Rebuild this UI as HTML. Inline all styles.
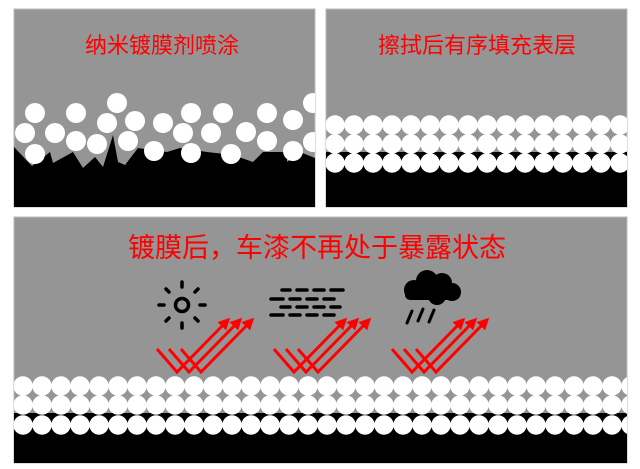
<!DOCTYPE html>
<html><head><meta charset="utf-8"><style>
body{margin:0;background:#fff;width:640px;height:469px;overflow:hidden}
svg{display:block}
text{font-family:"Liberation Sans","Noto Sans CJK SC",sans-serif;fill:#ff0000}
</style></head><body>
<svg width="640" height="469" viewBox="0 0 640 469" xmlns="http://www.w3.org/2000/svg">
<defs>
<g id="row" fill="#fff">
<circle cx="0" cy="0" r="9.7"/><circle cx="19" cy="0" r="9.7"/><circle cx="38" cy="0" r="9.7"/><circle cx="57" cy="0" r="9.7"/>
<circle cx="76" cy="0" r="9.7"/><circle cx="95" cy="0" r="9.7"/><circle cx="114" cy="0" r="9.7"/><circle cx="133" cy="0" r="9.7"/>
<circle cx="152" cy="0" r="9.7"/><circle cx="171" cy="0" r="9.7"/><circle cx="190" cy="0" r="9.7"/><circle cx="209" cy="0" r="9.7"/>
<circle cx="228" cy="0" r="9.7"/><circle cx="247" cy="0" r="9.7"/><circle cx="266" cy="0" r="9.7"/><circle cx="285" cy="0" r="9.7"/>
<circle cx="304" cy="0" r="9.7"/><circle cx="323" cy="0" r="9.7"/><circle cx="342" cy="0" r="9.7"/><circle cx="361" cy="0" r="9.7"/>
<circle cx="380" cy="0" r="9.7"/><circle cx="399" cy="0" r="9.7"/><circle cx="418" cy="0" r="9.7"/><circle cx="437" cy="0" r="9.7"/>
<circle cx="456" cy="0" r="9.7"/><circle cx="475" cy="0" r="9.7"/><circle cx="494" cy="0" r="9.7"/><circle cx="513" cy="0" r="9.7"/>
<circle cx="532" cy="0" r="9.7"/><circle cx="551" cy="0" r="9.7"/><circle cx="570" cy="0" r="9.7"/><circle cx="589" cy="0" r="9.7"/>
<circle cx="608" cy="0" r="9.7"/>
</g>
<clipPath id="c1"><rect x="14" y="9" width="301" height="198"/></clipPath>
<clipPath id="c2"><rect x="326" y="9" width="301" height="198"/></clipPath>
<clipPath id="c3"><rect x="14" y="217" width="613" height="246"/></clipPath>
<marker id="ah" viewBox="0 0 10 10" refX="5" refY="5" markerWidth="4" markerHeight="4" orient="auto"><path d="M0,0 L10,5 L0,10 z" fill="#f00"/></marker>
<g id="arr" fill="none" stroke="#f00" stroke-width="3">
<polyline points="157,349 177,372 226,322" marker-end="url(#ah)"/>
<polyline points="169,349 189,372 238,322" marker-end="url(#ah)"/>
<polyline points="181,349 201,372 250,322" marker-end="url(#ah)"/>
</g>
</defs>
<!-- panel 1 -->
<rect x="14" y="9" width="301" height="198" fill="#959595" stroke="#bbb" stroke-width="1"/>
<g clip-path="url(#c1)">
<polygon fill="#000" points="14,147 32,166 50,152 53,163 73,152 83,168 95,157 103,167 113,135 118,162 125,165 138,148 167,152 180,148 207,152 233,155 253,162 263,152 287,152 287,162 300,152 315,158 315,207 14,207"/>
<g fill="#fff">
<circle cx="35" cy="113" r="10"/><circle cx="76" cy="113" r="10"/><circle cx="117" cy="103" r="10"/>
<circle cx="135" cy="121" r="10"/><circle cx="107" cy="123" r="10"/><circle cx="25" cy="133" r="10"/>
<circle cx="55" cy="133" r="10"/><circle cx="76" cy="141" r="10"/><circle cx="97" cy="144" r="10"/>
<circle cx="128" cy="141" r="10"/><circle cx="35" cy="154" r="10"/><circle cx="163" cy="123" r="10"/>
<circle cx="191" cy="113" r="10"/><circle cx="223" cy="113" r="10"/><circle cx="183" cy="133" r="10"/>
<circle cx="211" cy="133" r="10"/><circle cx="246" cy="132" r="10"/><circle cx="267" cy="113" r="10"/>
<circle cx="293" cy="120" r="10"/><circle cx="313" cy="103" r="10"/><circle cx="267" cy="141" r="10"/>
<circle cx="154" cy="151" r="10"/><circle cx="191" cy="153" r="10"/><circle cx="231" cy="154" r="10"/>
<circle cx="293" cy="151" r="10"/><circle cx="313" cy="142" r="10"/>
</g></g>
<text x="162" y="53" font-size="22" text-anchor="middle">纳米镀膜剂喷涂</text>
<!-- panel 2 -->
<rect x="326" y="9" width="301" height="198" fill="#959595" stroke="#bbb" stroke-width="1"/>
<g clip-path="url(#c2)">
<rect x="326" y="152" width="301" height="55" fill="#000"/>
<use href="#row" x="335" y="125"/>
<use href="#row" x="335" y="144"/>
<use href="#row" x="335" y="163"/>
</g>
<text x="477" y="53" font-size="22" text-anchor="middle">擦拭后有序填充表层</text>
<!-- panel 3 -->
<rect x="14" y="217" width="613" height="246" fill="#959595" stroke="#bbb" stroke-width="1"/>
<g clip-path="url(#c3)">
<rect x="14" y="413" width="613" height="50" fill="#000"/>
<use href="#row" x="23" y="386"/>
<use href="#row" x="23" y="405"/>
<use href="#row" x="23" y="425"/>
</g>
<text x="317" y="257" font-size="27" text-anchor="middle">镀膜后，车漆不再处于暴露状态</text>
<!-- sun -->
<g stroke="#000" stroke-width="3.5" stroke-linecap="round" fill="none">
<circle cx="182" cy="305" r="6.5"/>
<line x1="182" y1="282" x2="182" y2="287"/><line x1="182" y1="323" x2="182" y2="328"/>
<line x1="159" y1="305" x2="164" y2="305"/><line x1="200" y1="305" x2="205" y2="305"/>
<line x1="166" y1="289" x2="169" y2="292"/><line x1="195" y1="318" x2="198" y2="321"/>
<line x1="198" y1="289" x2="195" y2="292"/><line x1="169" y1="318" x2="166" y2="321"/>
</g>
<!-- wind dashes -->
<g stroke="#000" stroke-width="3.5" stroke-linecap="round">
<line x1="282" y1="290" x2="290" y2="290"/><line x1="297" y1="290" x2="307" y2="290"/><line x1="314" y1="290" x2="324" y2="290"/><line x1="331" y1="290" x2="343" y2="290"/>
<line x1="271" y1="299" x2="283" y2="299"/><line x1="290" y1="299" x2="300" y2="299"/><line x1="307" y1="299" x2="317" y2="299"/><line x1="324" y1="299" x2="334" y2="299"/>
<line x1="281" y1="307" x2="290" y2="307"/><line x1="297" y1="307" x2="307" y2="307"/><line x1="314" y1="307" x2="324" y2="307"/><line x1="331" y1="307" x2="340" y2="307"/>
<line x1="271" y1="315" x2="283" y2="315"/><line x1="290" y1="315" x2="300" y2="315"/><line x1="307" y1="315" x2="317" y2="315"/><line x1="324" y1="315" x2="334" y2="315"/>
</g>
<!-- rain cloud -->
<g fill="#000">
<circle cx="414" cy="290" r="10"/><circle cx="427" cy="281" r="11"/><circle cx="442" cy="283" r="10"/><circle cx="452" cy="292" r="9"/>
<circle cx="437" cy="296" r="9"/>
<rect x="405" y="290" width="55" height="10" rx="5"/>
</g>
<g stroke="#000" stroke-width="3" stroke-linecap="round">
<line x1="407" y1="323" x2="412" y2="311"/><line x1="418" y1="321" x2="423" y2="309"/><line x1="429" y1="322" x2="434" y2="310"/>
</g>
<use href="#arr"/>
<use href="#arr" x="117"/>
<use href="#arr" x="235"/>
</svg>
</body></html>
